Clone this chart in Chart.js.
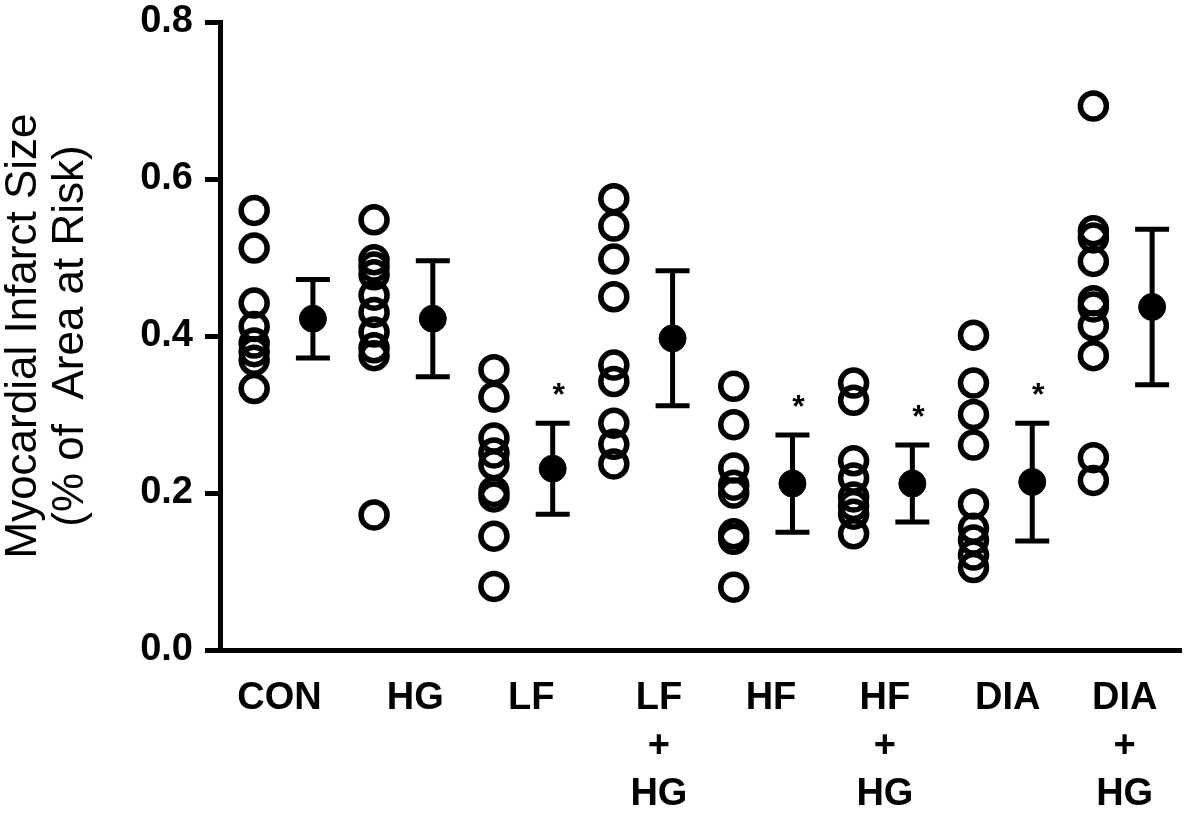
<!DOCTYPE html>
<html>
<head>
<meta charset="utf-8">
<title>Myocardial Infarct Size</title>
<script src="https://cdn.jsdelivr.net/npm/chart.js@4.4.1/dist/chart.umd.min.js"></script>
<style>
  html, body { margin: 0; padding: 0; background: #fff; }
  #wrap { width: 1200px; height: 817px; }
</style>
</head>
<body>
<div id="wrap"><canvas id="infarctChart" width="1200" height="817"></canvas></div>
<script>
// group labels (multi-line)
const categories = [['CON'], ['HG'], ['LF'], ['LF', '+', 'HG'], ['HF'], ['HF', '+', 'HG'], ['DIA'], ['DIA', '+', 'HG']];

// individual animals
const conValues = [0.560, 0.512, 0.442, 0.412, 0.391, 0.380, 0.369, 0.333];
const hgValues = [0.548, 0.497, 0.488, 0.478, 0.452, 0.430, 0.405, 0.385, 0.375, 0.172];
const lfValues = [0.357, 0.322, 0.270, 0.251, 0.236, 0.202, 0.195, 0.145, 0.081];
const lfHgValues = [0.575, 0.540, 0.498, 0.450, 0.363, 0.342, 0.289, 0.262, 0.237];
const hfValues = [0.336, 0.287, 0.232, 0.210, 0.200, 0.148, 0.141, 0.080];
const hfHgValues = [0.340, 0.318, 0.241, 0.219, 0.195, 0.184, 0.173, 0.148];
const diaValues = [0.401, 0.340, 0.300, 0.261, 0.186, 0.155, 0.140, 0.121, 0.105];
const diaHgValues = [0.693, 0.534, 0.525, 0.495, 0.445, 0.437, 0.413, 0.375, 0.245, 0.216];

// group mean +/- SEM
const means = [0.422, 0.422, 0.231, 0.397, 0.212, 0.212, 0.214, 0.437];
const sems = [0.050, 0.074, 0.058, 0.086, 0.062, 0.049, 0.075, 0.099];
const significant = [false, false, true, false, true, true, true, false];

const yTicks = [0, 0.2, 0.4, 0.6, 0.8];

const groups = [conValues, hgValues, lfValues, lfHgValues, hfValues, hfHgValues, diaValues, diaHgValues];
const OFFSET = 0.245;
// small horizontal shifts of the category labels (in group units), as in the original figure
const labelNudge = [-0.033, 0.099, 0.066, 0.131, 0.066, 0.016, 0.041, 0.016];
const FONT = '"Liberation Sans", Arial, Helvetica, sans-serif';

const rawPoints = [];
groups.forEach((vals, i) => {
  vals.forEach(v => rawPoints.push({ x: i - OFFSET, y: v }));
});
const meanPoints = means.map((m, i) => ({ x: i + OFFSET, y: m }));

// error bars + asterisks
const errorBars = {
  id: 'errorBars',
  beforeDatasetsDraw(chart) {
    const { ctx, scales: { x, y } } = chart;
    ctx.save();
    ctx.strokeStyle = '#000';
    ctx.lineWidth = 5;
    ctx.lineCap = 'butt';
    means.forEach((m, i) => {
      const px = x.getPixelForValue(i + OFFSET);
      const top = y.getPixelForValue(m + sems[i]);
      const bot = y.getPixelForValue(m - sems[i]);
      ctx.beginPath();
      ctx.moveTo(px, top);
      ctx.lineTo(px, bot);
      ctx.moveTo(px - 17, top);
      ctx.lineTo(px + 17, top);
      ctx.moveTo(px - 17, bot);
      ctx.lineTo(px + 17, bot);
      ctx.stroke();
    });
    ctx.restore();
  },
  afterDatasetsDraw(chart) {
    const { ctx, scales: { x, y } } = chart;
    ctx.save();
    ctx.fillStyle = '#000';
    ctx.font = 'bold 32px ' + FONT;
    ctx.textAlign = 'center';
    ctx.textBaseline = 'middle';
    means.forEach((m, i) => {
      if (!significant[i]) return;
      const px = x.getPixelForValue(i + OFFSET);
      const top = y.getPixelForValue(m + sems[i]);
      ctx.fillText('*', px + 6, top - 27);
    });
    ctx.restore();
  }
};

new Chart(document.getElementById('infarctChart'), {
  type: 'scatter',
  data: {
    datasets: [{
      label: 'Individual',
      data: rawPoints,
      pointStyle: 'circle',
      pointRadius: 13,
      pointBorderWidth: 5.5,
      borderColor: '#000',
      backgroundColor: 'rgba(0,0,0,0)'
    }, {
      label: 'Mean',
      data: meanPoints,
      pointStyle: 'circle',
      pointRadius: 13.5,
      pointBorderWidth: 1,
      borderColor: '#000',
      backgroundColor: '#000'
    }]
  },
  plugins: [errorBars],
  options: {
    responsive: false,
    animation: false,
    clip: false,
    layout: { padding: { top: 22, right: 5, left: 0, bottom: 0 } },
    plugins: {
      legend: { display: false },
      tooltip: { enabled: false }
    },
    scales: {
      x: {
        type: 'linear',
        min: -0.53,
        max: 7.49,
        afterFit: (scale) => { scale.height = 167; },
        afterBuildTicks: (scale) => {
          scale.ticks = categories.map((c, i) => ({ value: i + labelNudge[i] }));
        },
        grid: { display: false, drawTicks: false },
        border: { display: true, color: '#000', width: 5 },
        ticks: {
          autoSkip: false,
          maxRotation: 0,
          padding: 24,
          color: '#000',
          font: { family: FONT, size: 38, weight: 'bold', lineHeight: 1.27 },
          callback: (v, i) => categories[i] || ''
        }
      },
      y: {
        min: 0,
        max: 0.8,
        afterFit: (scale) => {
          scale.width = 220;
          scale.paddingTop = 0;
          scale.paddingBottom = 0;
        },
        afterBuildTicks: (scale) => {
          scale.ticks = yTicks.map(v => ({ value: v }));
        },
        grid: {
          drawOnChartArea: false,
          drawTicks: true,
          tickLength: 15,
          lineWidth: 5,
          color: '#000'
        },
        border: { display: true, color: '#000', width: 5 },
        ticks: {
          padding: 12,
          color: '#000',
          font: { family: FONT, size: 38, weight: 'bold' },
          callback: (v) => v.toFixed(1)
        },
        title: {
          display: true,
          text: ['Myocardial Infarct Size', '(% of  Area at Risk)'],
          color: '#000',
          padding: { top: 0, bottom: 0 },
          font: { family: FONT, size: 44, lineHeight: 1.08 }
        }
      }
    }
  }
});
</script>
</body>
</html>
